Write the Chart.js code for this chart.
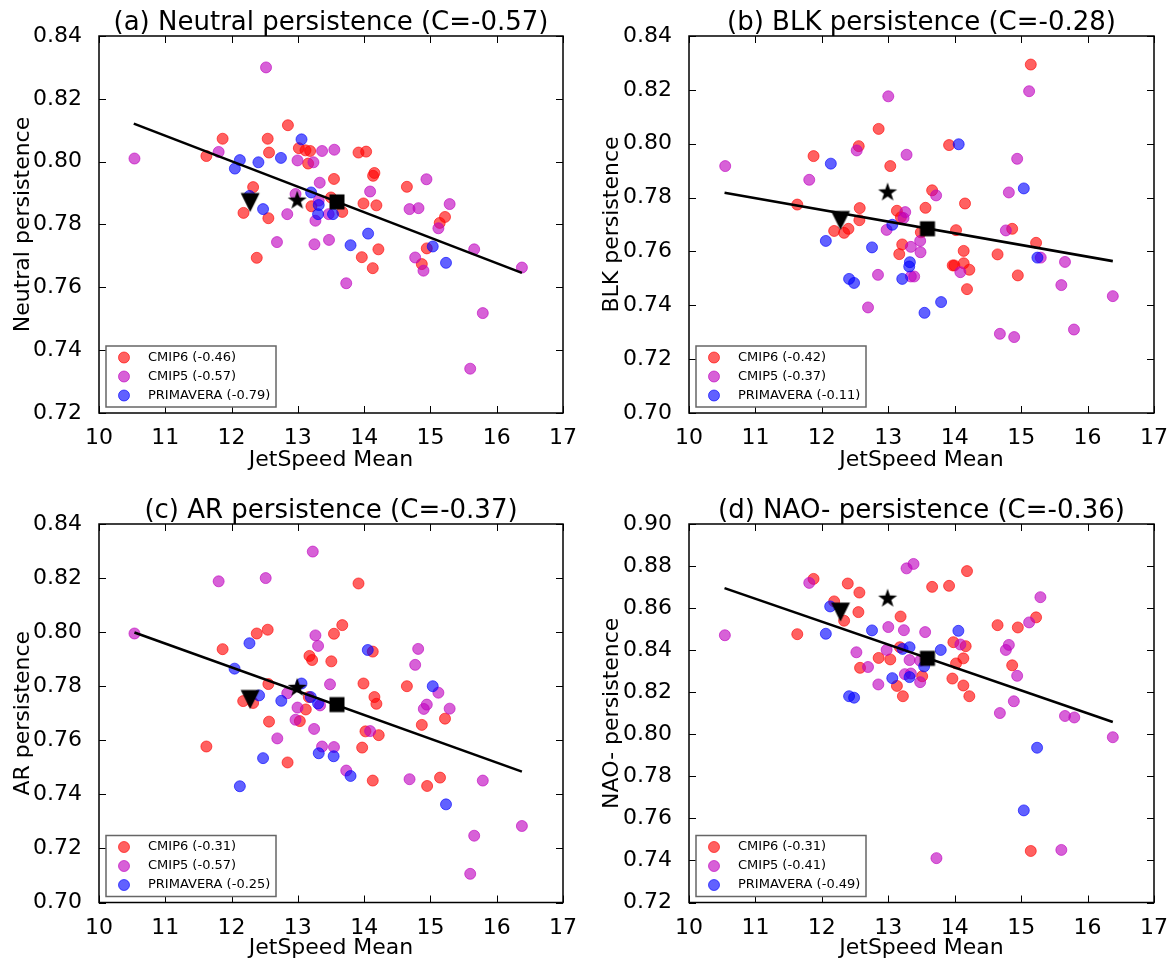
<!DOCTYPE html>
<html>
<head>
<meta charset="utf-8">
<script src="https://cdn.jsdelivr.net/npm/chart.js@4.4.0/dist/chart.umd.min.js"></script>
<style>
  body { margin: 0; background: #fff; }
  .panel { position: absolute; }
</style>
</head>
<body>
<div class="panel" style="left:0px;top:0px"><canvas id="chartA" width="587" height="482"></canvas></div>
<div class="panel" style="left:587px;top:0px"><canvas id="chartB" width="587" height="482"></canvas></div>
<div class="panel" style="left:0px;top:482px"><canvas id="chartC" width="587" height="483"></canvas></div>
<div class="panel" style="left:587px;top:482px"><canvas id="chartD" width="587" height="483"></canvas></div>
<script>
// each model is one [jet speed mean, persistence] pair
const cmip6A = [[12.85,0.8116],[11.865,0.8073],[12.545,0.8073],[11.62,0.8018],[12.565,0.8029],[13.015,0.8043],[13.115,0.8036],[13.185,0.8034],[13.155,0.7994],[13.545,0.7945],[12.325,0.7919],[12.18,0.7837],[12.555,0.782],[13.205,0.7858],[13.5,0.7886],[12.38,0.7694],[13.915,0.8029],[14.03,0.8032],[14.135,0.7955],[14.155,0.7964],[14.645,0.792],[13.99,0.7867],[14.185,0.7861],[15.22,0.7824],[15.14,0.7805],[13.67,0.784],[14.215,0.7721],[13.965,0.7696],[14.13,0.7661],[14.945,0.7724],[14.87,0.7674]];
const cmip5A = [[12.52,0.830],[10.535,0.801],[11.805,0.8031],[13.365,0.8034],[13.55,0.8038],[12.995,0.8004],[13.235,0.7998],[13.33,0.7933],[12.84,0.7833],[12.965,0.7897],[13.315,0.7876],[13.265,0.7812],[13.465,0.7833],[12.685,0.7744],[13.25,0.7737],[13.47,0.7751],[14.09,0.7905],[14.94,0.7944],[14.685,0.7849],[14.82,0.7852],[15.29,0.7865],[15.12,0.7788],[13.73,0.7613],[15.66,0.7721],[14.77,0.7695],[14.895,0.7653],[16.38,0.7663],[15.79,0.7518],[15.6,0.7341]];
const primA = [[13.055,0.8071],[12.125,0.8005],[12.405,0.7998],[12.745,0.8012],[12.05,0.7978],[12.27,0.7891],[12.475,0.7849],[13.2,0.7902],[13.315,0.7862],[13.305,0.7833],[13.53,0.7833],[14.06,0.7771],[13.795,0.7734],[15.035,0.773],[15.235,0.7678]];

const cmip6B = [[12.855,0.8055],[12.555,0.7991],[11.875,0.7954],[13.03,0.7917],[11.63,0.7774],[12.57,0.7761],[12.565,0.7716],[12.185,0.7676],[12.335,0.7669],[12.4,0.7684],[13.13,0.7751],[13.19,0.7727],[13.21,0.7626],[13.165,0.759],[15.145,0.8294],[13.915,0.7995],[13.66,0.7827],[13.56,0.7762],[14.155,0.7778],[14.02,0.7679],[14.865,0.7684],[15.225,0.7632],[14.135,0.7602],[14.645,0.7589],[13.97,0.7548],[13.995,0.7548],[14.135,0.7556],[14.22,0.7532],[14.95,0.7511],[14.185,0.746],[13.49,0.7671]];
const cmip5B = [[10.545,0.7917],[13.0,0.8176],[12.525,0.7975],[13.275,0.7959],[11.81,0.7866],[13.255,0.7746],[13.23,0.7724],[12.975,0.768],[13.34,0.7617],[13.485,0.7597],[13.48,0.7639],[12.845,0.7513],[13.34,0.7507],[13.39,0.7507],[12.695,0.7392],[15.12,0.8195],[14.94,0.7944],[14.815,0.7819],[13.72,0.7808],[14.77,0.7678],[15.295,0.7577],[15.66,0.7561],[14.085,0.7523],[15.605,0.7475],[16.38,0.7434],[14.68,0.7294],[14.895,0.7282],[15.795,0.731]];
const primB = [[12.135,0.7926],[13.06,0.7699],[12.06,0.7639],[12.755,0.7615],[13.325,0.756],[13.315,0.7544],[12.41,0.7498],[12.485,0.7483],[13.21,0.7498],[14.06,0.7998],[15.04,0.7834],[15.245,0.7577],[13.795,0.7412],[13.545,0.7372]];

const cmip6C = [[12.38,0.7995],[12.545,0.8009],[13.545,0.7994],[11.865,0.7937],[13.175,0.7912],[13.215,0.7897],[13.505,0.7892],[12.555,0.7808],[12.175,0.7745],[12.325,0.7738],[13.165,0.776],[13.12,0.7714],[13.03,0.7671],[12.565,0.7669],[11.62,0.7577],[12.845,0.7518],[13.915,0.818],[13.67,0.8026],[14.13,0.7928],[13.99,0.781],[14.645,0.78],[14.155,0.776],[14.185,0.7735],[15.22,0.768],[14.87,0.7657],[14.02,0.7633],[14.22,0.7619],[13.97,0.7573],[14.13,0.7451],[14.95,0.7431],[15.145,0.7462]];
const cmip5C = [[13.225,0.8298],[11.805,0.8188],[12.515,0.82],[10.535,0.7995],[13.265,0.7988],[13.305,0.7949],[13.485,0.7807],[12.84,0.7774],[13.335,0.7729],[12.995,0.7721],[12.965,0.7676],[13.245,0.7642],[12.69,0.7607],[13.365,0.7577],[13.545,0.7575],[14.815,0.7938],[14.77,0.7879],[15.12,0.7776],[14.945,0.7732],[14.9,0.7716],[15.29,0.7717],[14.09,0.7634],[13.73,0.7488],[14.685,0.7456],[15.79,0.7451],[16.38,0.7283],[15.66,0.7247],[15.6,0.7106]];
const primC = [[12.27,0.7959],[12.045,0.7865],[13.055,0.781],[12.415,0.7766],[12.75,0.7746],[13.195,0.776],[13.305,0.7736],[13.315,0.7552],[13.54,0.7541],[12.475,0.7534],[12.125,0.743],[14.055,0.7934],[15.035,0.78],[13.795,0.7468],[15.235,0.7363]];

const cmip6D = [[11.875,0.8739],[12.39,0.8717],[12.565,0.8674],[12.185,0.8632],[12.335,0.854],[12.55,0.8581],[13.185,0.856],[11.63,0.8476],[13.175,0.8414],[12.855,0.8363],[13.03,0.8356],[12.575,0.8316],[13.13,0.823],[13.22,0.8181],[14.185,0.8776],[13.66,0.8701],[13.915,0.8706],[15.225,0.8556],[14.645,0.8519],[14.95,0.8508],[13.98,0.8438],[14.165,0.8419],[14.13,0.8361],[14.02,0.8337],[14.865,0.8328],[13.51,0.8276],[13.965,0.8265],[14.13,0.8232],[14.22,0.8181],[15.145,0.7445]];
const cmip5D = [[13.38,0.881],[13.275,0.8789],[11.81,0.872],[13.0,0.851],[13.235,0.8495],[10.54,0.8471],[12.52,0.839],[12.975,0.8401],[13.32,0.8353],[12.695,0.832],[13.25,0.8286],[13.34,0.8289],[12.85,0.8237],[13.48,0.835],[13.48,0.8248],[15.29,0.8652],[15.12,0.8532],[13.555,0.8486],[14.085,0.8427],[14.815,0.8425],[14.77,0.8401],[14.94,0.8278],[14.89,0.8157],[14.68,0.8101],[15.66,0.8087],[15.8,0.808],[16.38,0.7986],[15.605,0.745],[13.725,0.7411]];
const primD = [[12.125,0.8608],[12.06,0.8478],[12.755,0.8494],[13.215,0.8406],[13.32,0.8414],[13.32,0.8272],[13.06,0.8267],[12.41,0.8181],[12.485,0.8174],[14.055,0.8492],[13.79,0.8401],[13.54,0.8323],[15.24,0.7936],[15.04,0.7638]];

// regression line end points
const fitA = [[10.525,0.8121],[16.38,0.7646]];
const fitB = [[10.535,0.7818],[16.38,0.7564]];
const fitC = [[10.535,0.7999],[16.38,0.7484]];
const fitD = [[10.535,0.8695],[16.38,0.8058]];

// black markers: triangle, star, square
const refX = [12.28, 12.99, 13.59];
const refYA = [0.787, 0.7876, 0.7872];
const refYB = [0.7715, 0.7819, 0.7684];
const refYC = [0.7751, 0.7794, 0.7732];
const refYD = [0.8581, 0.8645, 0.8361];

const titles = ['(a) Neutral persistence (C=-0.57)', '(b) BLK persistence (C=-0.28)', '(c) AR persistence (C=-0.37)', '(d) NAO- persistence (C=-0.36)'];
const yLabels = ['Neutral persistence', 'BLK persistence', 'AR persistence', 'NAO- persistence'];
const legendA = ['CMIP6 (-0.46)', 'CMIP5 (-0.57)', 'PRIMAVERA (-0.79)'];
const legendB = ['CMIP6 (-0.42)', 'CMIP5 (-0.37)', 'PRIMAVERA (-0.11)'];
const legendC = ['CMIP6 (-0.31)', 'CMIP5 (-0.57)', 'PRIMAVERA (-0.25)'];
const legendD = ['CMIP6 (-0.31)', 'CMIP5 (-0.41)', 'PRIMAVERA (-0.49)'];
const yRangeA = [0.72, 0.84];
const yRangeB = [0.70, 0.84];
const yRangeC = [0.70, 0.84];
const yRangeD = [0.72, 0.90];

Chart.defaults.font.family = '"DejaVu Sans", sans-serif';
Chart.defaults.color = '#000';

const colors = ['rgba(255,0,0,0.62)', 'rgba(191,0,191,0.62)', 'rgba(0,0,255,0.62)'];

// marker images
function markerCanvas(size, draw) {
    const c = document.createElement('canvas');
    c.width = size; c.height = size;
    const g = c.getContext('2d');
    g.fillStyle = '#000';
    draw(g, size / 2);
    return c;
}
const triDown = markerCanvas(24, (g, m) => {
    g.beginPath();
    g.moveTo(m - 9.5, m - 9.5); g.lineTo(m + 9.5, m - 9.5); g.lineTo(m, m + 9.5);
    g.closePath(); g.fill();
});
const star = markerCanvas(24, (g, m) => {
    g.beginPath();
    for (let i = 0; i < 10; i++) {
        const r = i % 2 ? 3.9 : 10;
        const a = -Math.PI / 2 + i * Math.PI / 5;
        g.lineTo(m + r * Math.cos(a), m + r * Math.sin(a));
    }
    g.closePath(); g.fill();
});
const square = markerCanvas(20, (g, m) => { g.fillRect(m - 7.5, m - 7.5, 15, 15); });

const frameTicks = {
    id: 'frameTicks',
    afterDatasetsDraw(chart) {
        const { ctx, chartArea: a } = chart;
        const xs = chart.scales.x, ys = chart.scales.y;
        ctx.save();
        ctx.strokeStyle = '#000';
        ctx.lineWidth = 1;
        ctx.beginPath();
        xs.ticks.forEach(t => {
            const p = Math.round(xs.getPixelForValue(t.value)) + 0.5;
            ctx.moveTo(p, a.top); ctx.lineTo(p, a.top + 7);
            ctx.moveTo(p, a.bottom); ctx.lineTo(p, a.bottom - 7);
        });
        ys.ticks.forEach(t => {
            const p = Math.round(ys.getPixelForValue(t.value)) + 0.5;
            ctx.moveTo(a.left, p); ctx.lineTo(a.left + 7, p);
            ctx.moveTo(a.right, p); ctx.lineTo(a.right - 7, p);
        });
        ctx.stroke();
        ctx.lineWidth = 1.5;
        ctx.strokeRect(a.left, a.top, a.width, a.height);
        ctx.restore();
    }
};

const boxLegend = {
    id: 'boxLegend',
    afterDraw(chart) {
        const { ctx, chartArea: a } = chart;
        const items = chart.data.datasets.filter(d => d.inLegend);
        const w = 170, h = 61;
        const x0 = a.left + 7, y0 = a.bottom - 6 - h;
        ctx.save();
        ctx.fillStyle = '#fff';
        ctx.fillRect(x0, y0, w, h);
        ctx.strokeStyle = '#666';
        ctx.lineWidth = 1.5;
        ctx.strokeRect(x0, y0, w, h);
        ctx.font = '13px "DejaVu Sans"';
        ctx.textBaseline = 'middle';
        items.forEach((d, i) => {
            const cy = y0 + 11.5 + i * 19;
            ctx.beginPath();
            ctx.arc(x0 + 18, cy, 5.5, 0, Math.PI * 2);
            ctx.fillStyle = d.backgroundColor;
            ctx.fill();
            ctx.strokeStyle = d.borderColor;
            ctx.lineWidth = 1;
            ctx.stroke();
            ctx.fillStyle = '#000';
            ctx.fillText(d.label, x0 + 42, cy);
        });
        ctx.restore();
    }
};

function makePanel(id, g) {
    const groups = [g.cmip6, g.cmip5, g.prim];
    const datasets = groups.map((pts, i) => ({
        label: g.legend[i],
        inLegend: true,
        data: pts,
        backgroundColor: colors[i],
        borderColor: colors[i],
        borderWidth: 1,
        pointRadius: 5.5,
        order: 4 - i
    }));
    datasets.push({
        data: g.fit,
        showLine: true,
        borderColor: '#000',
        borderWidth: 2.6,
        pointRadius: 0,
        order: 1
    });
    [triDown, star, square].forEach((img, i) => {
        datasets.push({
            data: [[refX[i], g.refY[i]]],
            pointStyle: img,
            pointRadius: 10,
            order: 0
        });
    });

    new Chart(document.getElementById(id), {
        type: 'scatter',
        data: { datasets },
        plugins: [frameTicks, boxLegend],
        options: {
            responsive: false,
            animation: false,
            devicePixelRatio: 1,
            layout: { padding: { left: 0, top: 0, right: g.padR, bottom: 0 } },
            plugins: {
                legend: { display: false },
                tooltip: { enabled: false },
                title: {
                    display: true,
                    text: g.title,
                    fullSize: false,
                    color: '#000',
                    font: { size: 26, weight: 'normal', lineHeight: 1 },
                    padding: { top: g.titleTop, bottom: 0 }
                }
            },
            scales: {
                x: {
                    type: 'linear',
                    min: 10, max: 17,
                    grid: { display: false },
                    border: { display: false },
                    ticks: { stepSize: 1, padding: 4.5, font: { size: 22 }, color: '#000' },
                    title: { display: true, text: 'JetSpeed Mean', font: { size: 22 }, color: '#000', padding: { top: 0, bottom: g.xTitlePad } },
                    afterFit: s => { s.height = g.xH; }
                },
                y: {
                    min: g.yRange[0], max: g.yRange[1],
                    grid: { display: false },
                    border: { display: false },
                    ticks: { stepSize: 0.02, padding: 9, font: { size: 22 }, color: '#000', callback: v => v.toFixed(2) },
                    title: { display: true, text: g.yLabel, font: { size: 22 }, color: '#000', padding: { top: g.yTitlePad, bottom: 0 } },
                    afterFit: s => { s.width = g.yW; }
                }
            }
        }
    });
}

makePanel('chartA', { cmip6: cmip6A, cmip5: cmip5A, prim: primA, fit: fitA, refY: refYA, legend: legendA, yRange: yRangeA,
    title: titles[0], yLabel: yLabels[0], padR: 24, yW: 99, titleTop: 10, xH: 69, xTitlePad: 8.5, yTitlePad: 10 });
makePanel('chartB', { cmip6: cmip6B, cmip5: cmip5B, prim: primB, fit: fitB, refY: refYB, legend: legendB, yRange: yRangeB,
    title: titles[1], yLabel: yLabels[1], padR: 20, yW: 102, titleTop: 10, xH: 69, xTitlePad: 8.5, yTitlePad: 12.5 });
makePanel('chartC', { cmip6: cmip6C, cmip5: cmip5C, prim: primC, fit: fitC, refY: refYC, legend: legendC, yRange: yRangeC,
    title: titles[2], yLabel: yLabels[2], padR: 24, yW: 99, titleTop: 16, xH: 62.5, xTitlePad: 3.3, yTitlePad: 10 });
makePanel('chartD', { cmip6: cmip6D, cmip5: cmip5D, prim: primD, fit: fitD, refY: refYD, legend: legendD, yRange: yRangeD,
    title: titles[3], yLabel: yLabels[3], padR: 20, yW: 102, titleTop: 16, xH: 62.5, xTitlePad: 3.3, yTitlePad: 12.5 });
</script>
</body>
</html>
